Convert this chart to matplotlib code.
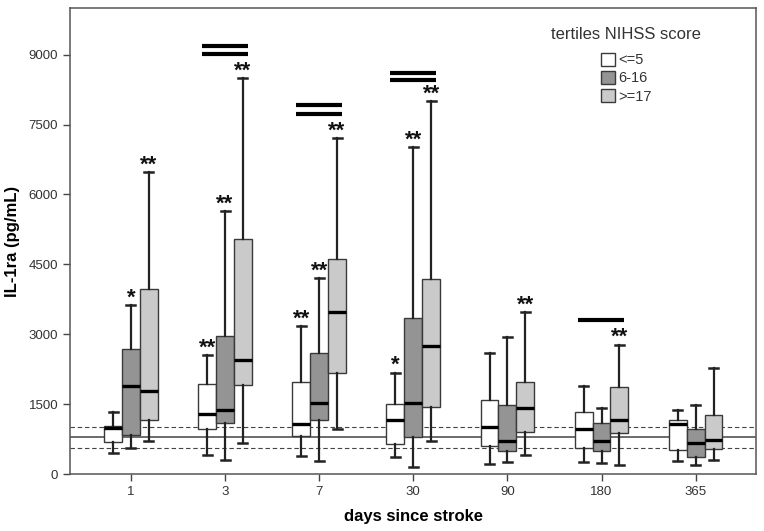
import numpy as np
import matplotlib
matplotlib.use("Agg")
import matplotlib.pyplot as plt
from matplotlib.patches import Patch

plt.rcParams['font.family'] = ['Liberation Sans', 'DejaVu Sans']

days = ["1", "3", "7", "30", "90", "180", "365"]
tertiles = ["<=5", "6-16", ">=17"]
colors = ["#ffffff", "#949494", "#cacaca"]

# box statistics (pg/mL)
low_q1 = [700, 964, 821, 657, 607, 571, 521]
low_med = [990, 1300, 1071, 1164, 1021, 979, 1071]
low_q3 = [1029, 1929, 1978, 1500, 1593, 1336, 1171]
low_lo = [450, 407, 392, 379, 229, 257, 286]
low_hi = [1343, 2550, 3178, 2179, 2607, 1893, 1371]

mid_q1 = [850, 1093, 1164, 807, 500, 500, 371]
mid_med = [1886, 1371, 1536, 1536, 721, 714, 664]
mid_q3 = [2686, 2971, 2593, 3350, 1493, 1093, 979]
mid_lo = [571, 300, 286, 157, 264, 243, 193]
mid_hi = [3629, 5643, 4207, 7014, 2950, 1421, 1493]

high_q1 = [1171, 1907, 2164, 1450, 907, 893, 543]
high_med = [1779, 2450, 3478, 2750, 1421, 1164, 729]
high_q3 = [3979, 5050, 4607, 4179, 1971, 1879, 1279]
high_lo = [721, 664, 964, 714, 414, 193, 314]
high_hi = [6486, 8500, 7214, 8000, 3478, 2779, 2286]

# significance stars per tertile and day
low_stars = ["", "**", "**", "*", "", "", ""]
mid_stars = ["*", "**", "**", "**", "", "", ""]
high_stars = ["**", "**", "**", "**", "**", "**", ""]

# reference band (healthy controls)
ref_median = 800
ref_band = [565, 1010]

# bars over groups: day index -> levels
sig_days = [1, 2, 3, 5]
sig_levels = [[9190, 9020], [7910, 7735], [8600, 8450], [3305]]

groups = [
    (low_q1, low_med, low_q3, low_lo, low_hi, low_stars),
    (mid_q1, mid_med, mid_q3, mid_lo, mid_hi, mid_stars),
    (high_q1, high_med, high_q3, high_lo, high_hi, high_stars),
]

fig = plt.figure(figsize=(7.64, 5.31), dpi=100)
ax = fig.add_axes([0.0916, 0.107, 0.898, 0.878])

x = np.arange(len(days))
width = 0.19
offsets = [-0.19, 0.0, 0.19]

ax.axhline(ref_median, color="#444444", lw=1.1, zorder=1)
for v in ref_band:
    ax.axhline(v, color="#444444", lw=0.8, ls=(0, (4, 2.5)), zorder=1)

for (q1, med, q3, lo, hi, stars), off, col in zip(groups, offsets, colors):
    stats = []
    for i in range(len(days)):
        stats.append(dict(q1=q1[i], med=med[i], q3=q3[i], whislo=lo[i],
                          whishi=hi[i], fliers=[]))
    ax.bxp(stats, positions=x + off, widths=width, patch_artist=True,
           showfliers=False, capwidths=width * 0.5,
           boxprops=dict(facecolor=col, edgecolor="#3a3a3a", lw=1.0),
           medianprops=dict(color="black", lw=2.4),
           whiskerprops=dict(color="#222222", lw=1.6),
           capprops=dict(color="#222222", lw=1.8), zorder=3)
    for i, s in enumerate(stars):
        if s:
            ax.annotate(s, (x[i] + off, hi[i]), xytext=(0, -2.5),
                        textcoords="offset points", ha="center", va="bottom",
                        fontsize=16, fontweight="bold", color="#111111")

for d, levels in zip(sig_days, sig_levels):
    for lev in levels:
        ax.plot([x[d] - 0.25, x[d] + 0.24], [lev, lev], color="black",
                lw=3, solid_capstyle="butt", zorder=4)

ax.set_xlim(-0.648, 6.642)
ax.set_ylim(0, 10000)
ax.set_yticks([0, 1500, 3000, 4500, 6000, 7500, 9000])
ax.set_xticks(x)
ax.set_xticklabels(days)
ax.tick_params(axis="both", direction="out", length=5, width=1,
               color="#444444", labelcolor="#333333", labelsize=9.5)
for sp in ax.spines.values():
    sp.set_color("#555555")
    sp.set_linewidth(1.1)

ax.set_ylabel("IL-1ra (pg/mL)", fontsize=12, fontweight="bold", labelpad=6)
ax.set_xlabel("days since stroke", fontsize=12, fontweight="bold", labelpad=8)

handles = [Patch(facecolor=c, edgecolor="#3a3a3a", label=t)
           for c, t in zip(colors, tertiles)]
leg = ax.legend(handles=handles, title="tertiles NIHSS score", frameon=False,
                loc="upper right", bbox_to_anchor=(0.935, 0.982), fontsize=10.5,
                title_fontsize=12, handlelength=1.0, handleheight=1.0,
                handletextpad=0.2, labelspacing=0.25, borderpad=0.2)
leg.get_title().set_color("#333333")
leg._legend_box.sep = 8
for t in leg.get_texts():
    t.set_color("#333333")

fig.savefig("out.png", dpi=100)
